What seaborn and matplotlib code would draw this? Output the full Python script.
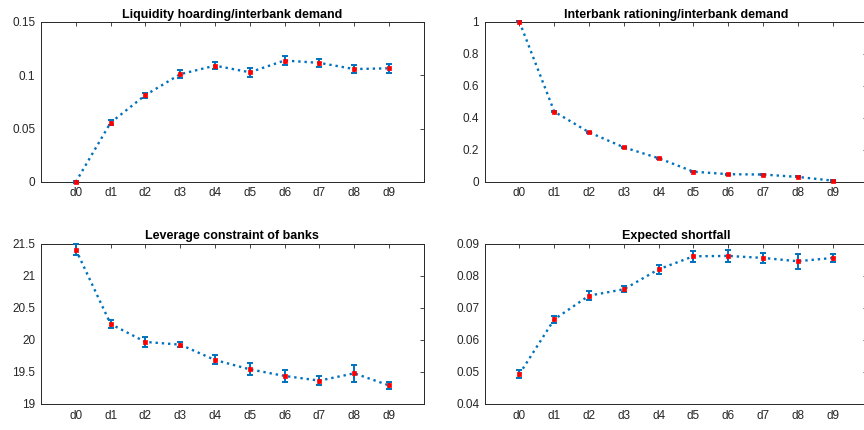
import numpy as np
import pandas as pd
import matplotlib
matplotlib.use("Agg")
import matplotlib.pyplot as plt
import seaborn as sns

sns.set_theme(style="white")
plt.rcParams['font.family'] = ['Liberation Sans', 'DejaVu Sans']

# Data
labels = ["d0", "d1", "d2", "d3", "d4", "d5", "d6", "d7", "d8", "d9"]

hoard_mean = [0.0, 0.0556, 0.0814, 0.101, 0.109, 0.1028, 0.1138, 0.1116, 0.1058, 0.1065]
hoard_err = [0.001, 0.0025, 0.0023, 0.004, 0.003, 0.004, 0.0045, 0.0037, 0.004, 0.004]

ration_mean = [1.0, 0.439, 0.31, 0.216, 0.148, 0.064, 0.048, 0.046, 0.031, 0.008]
ration_err = [0.003, 0.004, 0.004, 0.004, 0.003, 0.003, 0.003, 0.003, 0.003, 0.002]

lev_mean = [21.406, 20.247, 19.967, 19.925, 19.686, 19.54, 19.437, 19.364, 19.478, 19.29]
lev_err = [0.083, 0.06, 0.08, 0.04, 0.07, 0.094, 0.1, 0.065, 0.135, 0.057]

es_mean = [0.04936, 0.0664, 0.07378, 0.07576, 0.0820, 0.08605, 0.08615, 0.08553, 0.0845, 0.08553]
es_err = [0.00114, 0.001, 0.00135, 0.001, 0.00135, 0.00166, 0.002, 0.00156, 0.0024, 0.00125]

panels = [
    ("Liquidity hoarding/interbank demand", hoard_mean, hoard_err, (0, 0.15), [0, 0.05, 0.1, 0.15]),
    ("Interbank rationing/interbank demand", ration_mean, ration_err, (0, 1), [0, 0.2, 0.4, 0.6, 0.8, 1]),
    ("Leverage constraint of banks", lev_mean, lev_err, (19, 21.5), [19, 19.5, 20, 20.5, 21, 21.5]),
    ("Expected shortfall", es_mean, es_err, (0.04, 0.09), [0.04, 0.05, 0.06, 0.07, 0.08, 0.09]),
]

# axes boxes in figure fractions (left, bottom, width, height)
boxes = [
    (0.0475, 0.577, 0.443, 0.372),
    (0.561, 0.577, 0.443, 0.372),
    (0.0475, 0.0605, 0.443, 0.373),
    (0.561, 0.0605, 0.443, 0.373),
]

blue = "#0072BD"
dark = "#262626"

fig = plt.figure(figsize=(8.64, 4.30), dpi=100)

for (title, mean, err, ylim, yticks), box in zip(panels, boxes):
    ax = fig.add_axes(box)
    df = pd.DataFrame({"x": np.arange(1, len(labels) + 1), "y": mean, "e": err})

    sns.lineplot(data=df, x="x", y="y", ax=ax, color=blue, linestyle=":",
                 linewidth=1.7, zorder=2)
    eb = ax.errorbar(df["x"], df["y"], yerr=df["e"], fmt="none", ecolor=blue,
                     elinewidth=1.4, capsize=2.5, capthick=1.4, zorder=3)
    for part in eb.get_children():
        part.set_clip_on(False)
    sns.scatterplot(data=df, x="x", y="y", ax=ax, color="red", marker="s",
                    s=12, edgecolor="red", linewidth=0.5, zorder=4, clip_on=False)

    ax.set_xlim(0, len(labels) + 1)
    ax.set_ylim(*ylim)
    ax.set_xticks(df["x"])
    ax.set_xticklabels(labels)
    ax.set_yticks(yticks)
    ax.set_yticklabels([f"{t:g}" for t in yticks])
    ax.set_xlabel("")
    ax.set_ylabel("")
    ax.set_title(title, fontsize=9, fontweight="bold", color="black", pad=3)

    ax.tick_params(direction="in", length=3, width=0.6, colors=dark,
                   labelsize=8.5, top=True, right=True, pad=4)
    for s in ax.spines.values():
        s.set_color(dark)
        s.set_linewidth(0.7)
    ax.grid(False)

fig.savefig("out.png", dpi=100)
